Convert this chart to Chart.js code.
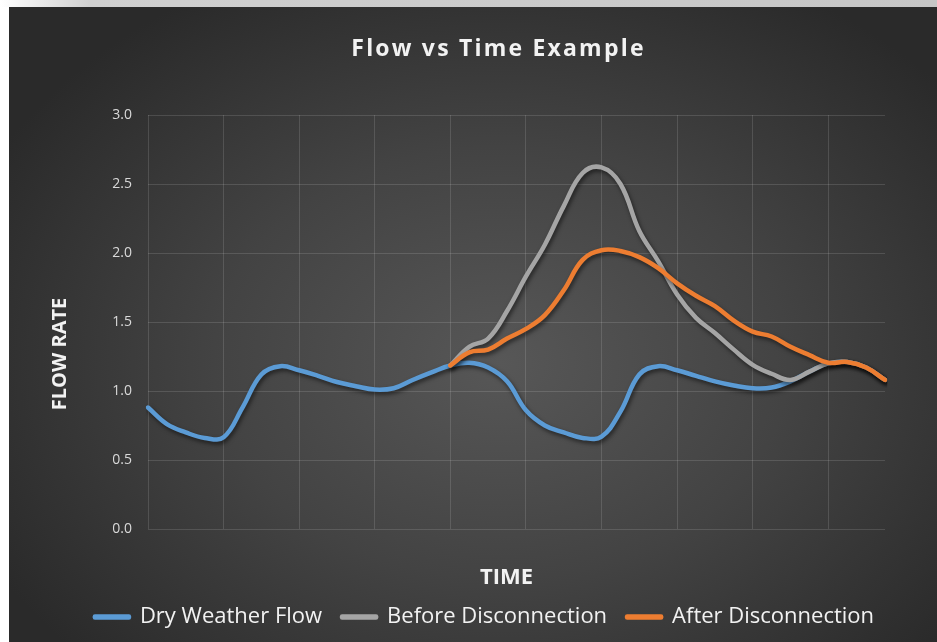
<!DOCTYPE html>
<html>
<head>
<meta charset="utf-8">
<title>Flow vs Time Example</title>
<script src="https://cdn.jsdelivr.net/npm/chart.js@4.4.0/dist/chart.umd.min.js"></script>
<style>
    html, body { margin: 0; padding: 0; background: #fff; overflow: hidden; }
    #frame { position: absolute; left: 0; top: 0; width: 937px; height: 642px; background: #fff; }
    #strip { position: absolute; left: 0; top: 0; width: 937px; height: 7px;
             background: linear-gradient(to right, #fff 0px, #d0d0d0 90px, #c6c6c6 100%); }
    #panel { position: absolute; left: 9px; top: 7px; width: 928px; height: 635px;
             background: radial-gradient(ellipse 62% 68% at 53% 56%, #575757 0%, #434343 50%, #2a2a2a 100%); }
    #chart { position: absolute; left: 0; top: 0; }
</style>
</head>
<body>
<div id="frame">
    <div id="strip"></div>
    <div id="panel"></div>
    <canvas id="chart" width="937" height="642"></canvas>
</div>
<script>
// 15 minute steps, no labels shown on the axis
const times = [
    '0:00', '0:15', '0:30', '0:45', '1:00', '1:15', '1:30', '1:45',
    '2:00', '2:15', '2:30', '2:45', '3:00', '3:15', '3:30', '3:45',
    '4:00', '4:15', '4:30', '4:45', '5:00', '5:15', '5:30', '5:45',
    '6:00', '6:15', '6:30', '6:45', '7:00', '7:15', '7:30', '7:45',
    '8:00', '8:15', '8:30', '8:45', '9:00', '9:15', '9:30', '9:45'
];

const dryWeatherFlow = [
    0.88, 0.76, 0.70, 0.66, 0.665, 0.88, 1.12, 1.18,
    1.15, 1.11, 1.065, 1.035, 1.01, 1.02, 1.08, 1.135,
    1.185, 1.205, 1.17, 1.07, 0.86, 0.75, 0.70, 0.66,
    0.67, 0.85, 1.12, 1.18, 1.15, 1.11, 1.07, 1.04,
    1.02, 1.025, 1.07, 1.14, 1.20, 1.21, 1.17, 1.08
];

const beforeDisconnection = [
    null, null, null, null, null, null, null, null,
    null, null, null, null, null, null, null, null,
    1.185, 1.32, 1.38, 1.58, 1.83, 2.06, 2.34, 2.58,
    2.62, 2.50, 2.16, 1.94, 1.70, 1.53, 1.42, 1.30,
    1.19, 1.125, 1.08, 1.14, 1.20, 1.21, 1.17, 1.08
];

const afterDisconnection = [
    null, null, null, null, null, null, null, null,
    null, null, null, null, null, null, null, null,
    1.185, 1.28, 1.30, 1.38, 1.45, 1.55, 1.73, 1.95,
    2.02, 2.015, 1.97, 1.89, 1.78, 1.69, 1.615, 1.51,
    1.43, 1.395, 1.32, 1.26, 1.205, 1.21, 1.17, 1.08
];

const yTicks = [0, 0.5, 1, 1.5, 2, 2.5, 3];

const FONT = "'Open Sans', 'DejaVu Sans', sans-serif";

// soft drop shadow under each line, like the Excel style
const lineShadow = {
    id: 'lineShadow',
    beforeDatasetDraw(chart) {
        const ctx = chart.ctx;
        ctx.save();
        ctx.shadowColor = 'rgba(0, 0, 0, 0.55)';
        ctx.shadowBlur = 4;
        ctx.shadowOffsetX = 1.5;
        ctx.shadowOffsetY = 2.5;
    },
    afterDatasetDraw(chart) {
        chart.ctx.restore();
    }
};

// spaced-out chart title nudged right, x title nudged left, like the original
const titleTweaks = {
    id: 'titleTweaks',
    beforeDraw(chart) {
        const block = chart.titleBlock;
        if (block && !block._tweaked) {
            const draw = block.draw;
            block.draw = function () {
                const ctx = this.ctx;
                ctx.save();
                ctx.letterSpacing = '2.2px';
                ctx.translate(14, 0);
                draw.apply(this, arguments);
                ctx.restore();
            };
            block._tweaked = true;
        }
        const xScale = chart.scales.x;
        if (xScale && !xScale._tweaked) {
            const drawTitle = xScale.drawTitle;
            xScale.drawTitle = function () {
                const ctx = this.ctx;
                ctx.save();
                ctx.translate(-10, 0);
                drawTitle.apply(this, arguments);
                ctx.restore();
            };
            xScale._tweaked = true;
        }
    }
};

// y axis title sits a bit below the middle of the plot in the original
const yAxisTitle = {
    id: 'yAxisTitle',
    afterDraw(chart, args, opts) {
        const ctx = chart.ctx;
        ctx.save();
        ctx.translate(opts.x, opts.y);
        ctx.rotate(-Math.PI / 2);
        ctx.font = 'bold 20px ' + FONT;
        ctx.fillStyle = '#f2f2f2';
        ctx.textAlign = 'center';
        ctx.textBaseline = 'middle';
        ctx.fillText(opts.text, 0, 0);
        ctx.restore();
    }
};

const canvas = document.getElementById('chart');

new Chart(canvas.getContext('2d'), {
    type: 'line',
    data: {
        labels: times,
        datasets: [
            {
                label: 'Dry Weather Flow',
                data: dryWeatherFlow,
                borderColor: '#5B9BD5',
                backgroundColor: '#5B9BD5',
                order: 3
            },
            {
                label: 'Before Disconnection',
                data: beforeDisconnection,
                borderColor: '#A5A5A5',
                backgroundColor: '#A5A5A5',
                order: 2
            },
            {
                label: 'After Disconnection',
                data: afterDisconnection,
                borderColor: '#ED7D31',
                backgroundColor: '#ED7D31',
                order: 1
            }
        ]
    },
    options: {
        responsive: false,
        animation: false,
        layout: {
            padding: { left: 32, right: 0, top: 0, bottom: 4 }
        },
        elements: {
            line: {
                borderWidth: 4.5,
                tension: 0.4,
                borderCapStyle: 'round',
                borderJoinStyle: 'round',
                fill: false
            },
            point: { radius: 0, hoverRadius: 0 }
        },
        plugins: {
            tooltip: { enabled: false },
            title: {
                display: true,
                text: 'Flow vs Time Example',
                color: '#f2f2f2',
                font: { family: FONT, size: 23, weight: 'bold' },
                padding: { top: 36, bottom: 51.4 }
            },
            legend: {
                position: 'bottom',
                labels: {
                    color: '#f2f2f2',
                    font: { family: FONT, size: 22 },
                    boxWidth: 34,
                    boxHeight: 1,
                    padding: 20,
                    sort: (a, b) => a.datasetIndex - b.datasetIndex
                }
            },
            yAxisTitle: { text: 'FLOW RATE', x: 60, y: 354 }
        },
        scales: {
            x: {
                type: 'category',
                offset: false,
                border: { display: false },
                grid: {
                    drawTicks: false,
                    color: (c) => (c.index % 4 === 0 ? 'rgba(255, 255, 255, 0.13)' : 'rgba(0, 0, 0, 0)'),
                    lineWidth: 1
                },
                ticks: { display: false },
                title: {
                    display: true,
                    text: 'TIME',
                    color: '#f2f2f2',
                    font: { family: FONT, size: 22, weight: 'bold' },
                    padding: { top: 35.8, bottom: -5.2 }
                }
            },
            y: {
                min: 0,
                max: 3,
                border: { display: false },
                grid: {
                    drawTicks: false,
                    color: 'rgba(255, 255, 255, 0.13)',
                    lineWidth: 1
                },
                afterBuildTicks: (scale) => {
                    scale.ticks = yTicks.map(v => ({ value: v }));
                },
                afterFit: (scale) => { scale.width = 116; },
                ticks: {
                    padding: 16,
                    color: '#d9d9d9',
                    font: { family: FONT, size: 14 },
                    callback: (v) => Number(v).toFixed(1)
                }
            },
            // empty right-hand axis, only keeps the plot clear of the right edge
            yRight: {
                position: 'right',
                min: 0,
                max: 3,
                border: { display: false },
                grid: { display: false },
                ticks: { display: false },
                afterFit: (scale) => { scale.width = 52; }
            }
        }
    },
    plugins: [lineShadow, titleTweaks, yAxisTitle]
});
</script>
</body>
</html>
